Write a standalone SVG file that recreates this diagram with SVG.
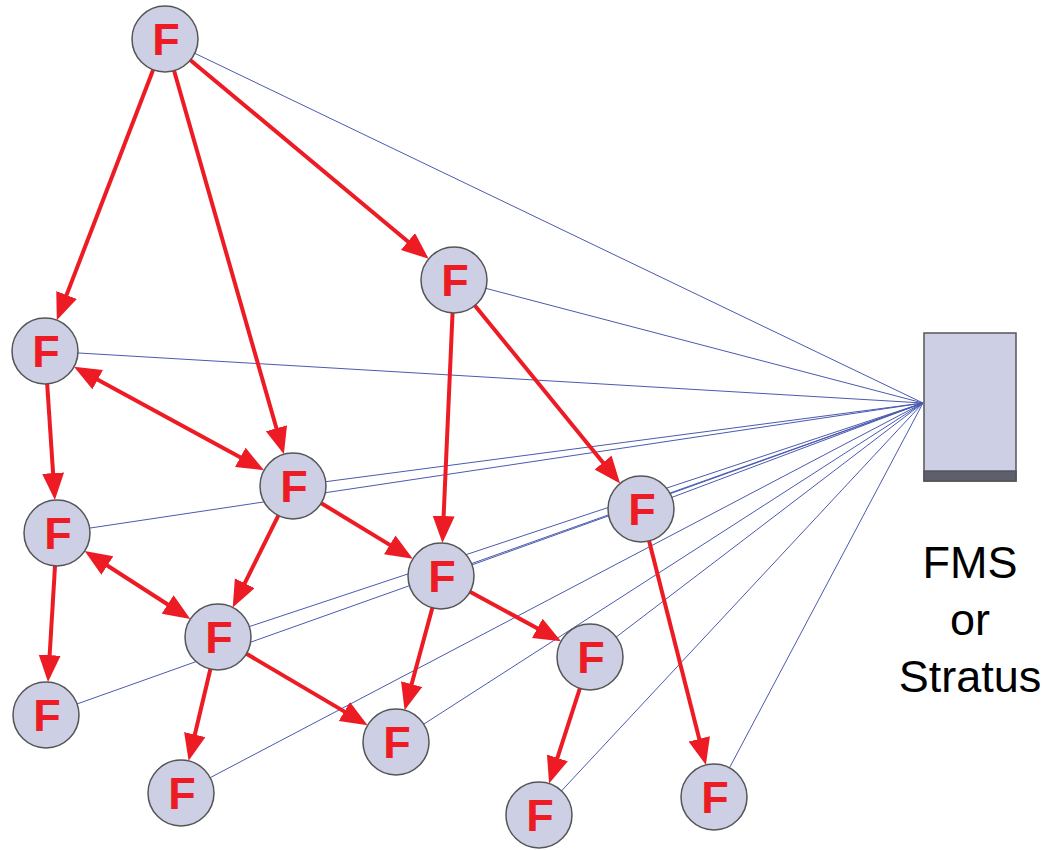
<svg xmlns="http://www.w3.org/2000/svg" width="1048" height="850" viewBox="0 0 1048 850">
  <style>
    .link { stroke: #4a5ab0; stroke-width: 1; fill: none; }
    .flow { stroke: #ed1c24; stroke-width: 4; fill: none; marker-end: url(#head); }
    .both { marker-start: url(#head); }
    .node circle { fill: #cdcfe4; stroke: #555; stroke-width: 1.5; }
    .node text { font-family: "Liberation Sans", Arial, sans-serif; font-weight: bold; font-size: 45px; fill: #ed1c24; text-anchor: middle; }
    .label { font-family: "Liberation Sans", Arial, sans-serif; font-size: 45px; fill: #000; text-anchor: middle; }
  </style>
  <defs>
    <marker id="head" markerUnits="userSpaceOnUse" markerWidth="28" markerHeight="24" refX="14" refY="11" orient="auto-start-reverse">
      <path d="M0,0 L27,11 L0,22 Z" fill="#ed1c24"/>
    </marker>
  </defs>
  <rect width="1048" height="850" fill="#fff"/>

  <g id="connectors">
    <!-- management links to the server -->
    <g id="server-links">
      <line class="link" x1="165" y1="39" x2="923" y2="403"/>
      <line class="link" x1="454" y1="280" x2="923" y2="403"/>
      <line class="link" x1="45" y1="351" x2="923" y2="403"/>
      <line class="link" x1="293" y1="486" x2="923" y2="403"/>
      <line class="link" x1="57" y1="533" x2="923" y2="403"/>
      <line class="link" x1="641" y1="509" x2="923" y2="403"/>
      <line class="link" x1="441" y1="576" x2="923" y2="403"/>
      <line class="link" x1="218" y1="637" x2="923" y2="403"/>
      <line class="link" x1="590" y1="657" x2="923" y2="403"/>
      <line class="link" x1="46" y1="715" x2="923" y2="403"/>
      <line class="link" x1="396" y1="742" x2="923" y2="403"/>
      <line class="link" x1="181" y1="793" x2="923" y2="403"/>
      <line class="link" x1="539" y1="815" x2="923" y2="403"/>
      <line class="link" x1="714" y1="797" x2="923" y2="403"/>
    </g>
    <!-- traffic between nodes -->
    <g id="flows">
      <line class="flow" x1="165" y1="39" x2="61.5" y2="308.1"/>
      <line class="flow" x1="165" y1="39" x2="280.3" y2="441.8"/>
      <line class="flow" x1="165" y1="39" x2="418.7" y2="250.5"/>
      <line class="flow both" x1="85.4" y1="373.0" x2="252.6" y2="464.0"/>
      <line class="flow" x1="45" y1="351" x2="54.0" y2="487.1"/>
      <line class="flow" x1="454" y1="280" x2="443.0" y2="530.0"/>
      <line class="flow" x1="454" y1="280" x2="611.9" y2="473.4"/>
      <line class="flow" x1="293" y1="486" x2="401.7" y2="552.1"/>
      <line class="flow" x1="293" y1="486" x2="238.5" y2="595.8"/>
      <line class="flow both" x1="95.6" y1="558.0" x2="179.4" y2="612.0"/>
      <line class="flow" x1="57" y1="533" x2="48.8" y2="669.1"/>
      <line class="flow" x1="441" y1="576" x2="549.6" y2="635.0"/>
      <line class="flow" x1="441" y1="576" x2="408.0" y2="697.6"/>
      <line class="flow" x1="218" y1="637" x2="356.4" y2="718.6"/>
      <line class="flow" x1="218" y1="637" x2="191.6" y2="748.2"/>
      <line class="flow" x1="590" y1="657" x2="553.1" y2="771.2"/>
      <line class="flow" x1="641" y1="509" x2="702.7" y2="752.4"/>
    </g>
  </g>

  <g id="n1" class="node"><circle cx="165" cy="39" r="33"/><text x="166" y="55">F</text></g>
  <g id="n2" class="node"><circle cx="454" cy="280" r="33"/><text x="455" y="296">F</text></g>
  <g id="n3" class="node"><circle cx="45" cy="351" r="33"/><text x="46" y="367">F</text></g>
  <g id="n4" class="node"><circle cx="293" cy="486" r="33"/><text x="294" y="502">F</text></g>
  <g id="n5" class="node"><circle cx="57" cy="533" r="33"/><text x="58" y="549">F</text></g>
  <g id="n6" class="node"><circle cx="641" cy="509" r="33"/><text x="642" y="525">F</text></g>
  <g id="n7" class="node"><circle cx="441" cy="576" r="33"/><text x="442" y="592">F</text></g>
  <g id="n8" class="node"><circle cx="218" cy="637" r="33"/><text x="219" y="653">F</text></g>
  <g id="n9" class="node"><circle cx="590" cy="657" r="33"/><text x="591" y="673">F</text></g>
  <g id="n10" class="node"><circle cx="46" cy="715" r="33"/><text x="47" y="731">F</text></g>
  <g id="n11" class="node"><circle cx="396" cy="742" r="33"/><text x="397" y="758">F</text></g>
  <g id="n12" class="node"><circle cx="181" cy="793" r="33"/><text x="182" y="809">F</text></g>
  <g id="n13" class="node"><circle cx="539" cy="815" r="33"/><text x="540" y="831">F</text></g>
  <g id="n14" class="node"><circle cx="714" cy="797" r="33"/><text x="715" y="813">F</text></g>

  <g id="server">
    <rect x="924" y="333" width="92" height="148" fill="#cdcfe4" stroke="#555" stroke-width="1.5"/>
    <rect x="924" y="471" width="92" height="10" fill="#5e5e6c" stroke="#555" stroke-width="1.5"/>
    <text class="label" x="970" y="578">FMS</text>
    <text class="label" x="970" y="635">or</text>
    <text class="label" x="970" y="692">Stratus</text>
  </g>
</svg>
